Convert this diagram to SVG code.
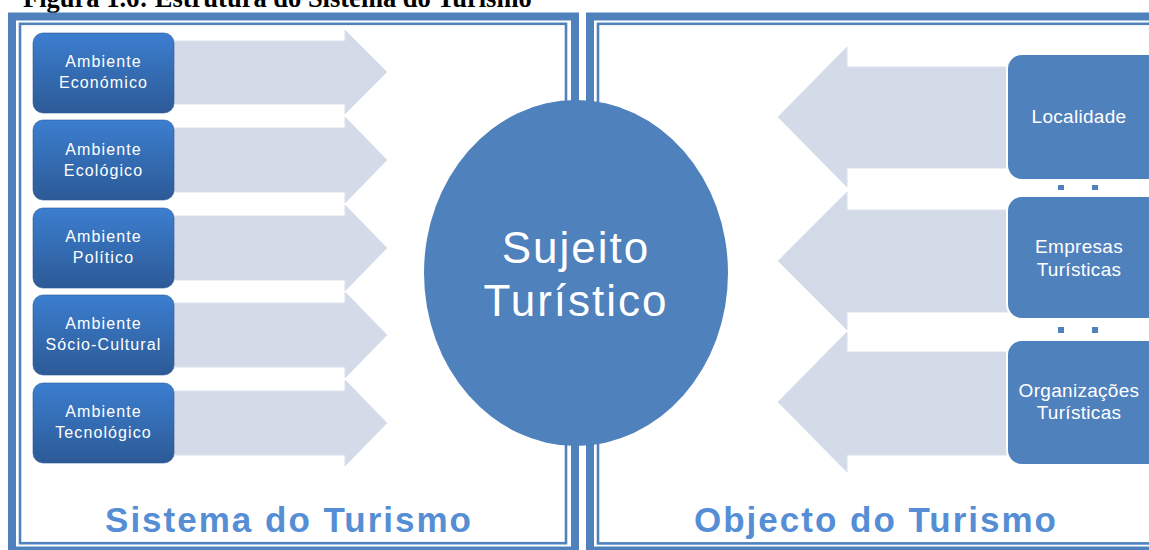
<svg xmlns="http://www.w3.org/2000/svg" width="1149" height="550" viewBox="0 0 1149 550">
<style>
.frame{fill:none;stroke:#4f81bd}
.thick{stroke-width:8}
.thin{stroke-width:2.6}
.arrow{fill:#d3dbe8;stroke:#dae1ec;stroke-width:1}
.lbox{fill:url(#lg);stroke:#2c5890;stroke-width:0.6}
.ltxt{font-family:"Liberation Sans",Arial,sans-serif;font-size:16px;fill:#ffffff;text-anchor:middle;letter-spacing:1.1px}
.rbox{fill:#4f81bd;stroke:#ffffff;stroke-width:2}
.rtxt{font-family:"Liberation Sans",Arial,sans-serif;font-size:19px;fill:#ffffff;text-anchor:middle;letter-spacing:0.3px}
.ctxt{font-family:"Liberation Sans",Arial,sans-serif;font-size:44px;fill:#ffffff;text-anchor:middle;letter-spacing:2px}
.dot{fill:#4f81bd}
.title{font-family:"Liberation Sans",Arial,sans-serif;font-weight:bold;font-size:35px;fill:#558ed5;text-anchor:middle;letter-spacing:2px}
</style>
<defs>
<linearGradient id="lg" x1="0" y1="0" x2="0" y2="1">
<stop offset="0" stop-color="#3c7ed0"/>
<stop offset="1" stop-color="#2c5a96"/>
</linearGradient>
</defs>
<rect width="1149" height="550" fill="#ffffff"/>
<text x="23" y="7" font-family="'Liberation Serif',serif" font-weight="bold" font-size="26.5" fill="#000000">Figura 1.6: Estrutura do Sistema do Turismo</text>
<g id="frames">
<rect class="frame thick" x="12" y="16.5" width="563" height="534"/>
<rect class="frame thin" x="20" y="23.8" width="546" height="519.4"/>
<rect class="frame thick" x="590" y="16.5" width="600" height="534"/>
<rect class="frame thin" x="598" y="23.8" width="590" height="519.6"/>
</g>
<g id="connectors">
<polygon class="arrow" points="150,41 345,41 345,30 387,72 345,114 345,104 150,104"/>
<polygon class="arrow" points="150,128 345,128 345,117 387,160 345,203 345,192 150,192"/>
<polygon class="arrow" points="150,216 345,216 345,205 387,248 345,291 345,280 150,280"/>
<polygon class="arrow" points="150,303 345,303 345,292 387,335 345,378 345,367 150,367"/>
<polygon class="arrow" points="150,391 345,391 345,380 387,423 345,466 345,455 150,455"/>
<polygon class="arrow" points="1010,67 847,67 847,47 778,117 847,187 847,168 1010,168"/>
<polygon class="arrow" points="1010,210 847,210 847,192 778,261 847,330 847,312 1010,312"/>
<polygon class="arrow" points="1010,352 847,352 847,332 778,402 847,472 847,455 1010,455"/>
</g>
<g id="node-economico">
<rect class="lbox" x="33" y="33" width="141" height="80" rx="10"/>
<text class="ltxt" x="103.5" y="67">Ambiente</text>
<text class="ltxt" x="103.5" y="88">Económico</text>
</g>
<g id="node-ecologico">
<rect class="lbox" x="33" y="120" width="141" height="80" rx="10"/>
<text class="ltxt" x="103.5" y="155">Ambiente</text>
<text class="ltxt" x="103.5" y="176">Ecológico</text>
</g>
<g id="node-politico">
<rect class="lbox" x="33" y="208" width="141" height="80" rx="10"/>
<text class="ltxt" x="103.5" y="242">Ambiente</text>
<text class="ltxt" x="103.5" y="263">Político</text>
</g>
<g id="node-socio">
<rect class="lbox" x="33" y="295" width="141" height="80" rx="10"/>
<text class="ltxt" x="103.5" y="329">Ambiente</text>
<text class="ltxt" x="103.5" y="350">Sócio-Cultural</text>
</g>
<g id="node-tecnologico">
<rect class="lbox" x="33" y="383" width="141" height="80" rx="10"/>
<text class="ltxt" x="103.5" y="417">Ambiente</text>
<text class="ltxt" x="103.5" y="438">Tecnológico</text>
</g>
<g id="node-sujeito">
<ellipse cx="576" cy="273" rx="152" ry="173" fill="#4f81bd"/>
<text class="ctxt" x="576" y="263">Sujeito</text>
<text class="ctxt" x="576" y="316">Turístico</text>
</g>
<g id="node-localidade">
<rect class="rbox" x="1007" y="54" width="160" height="126" rx="15"/>
<text class="rtxt" x="1079" y="123">Localidade</text>
</g>
<g id="node-empresas">
<rect class="rbox" x="1007" y="196" width="160" height="123" rx="15"/>
<text class="rtxt" x="1079" y="253">Empresas</text>
<text class="rtxt" x="1079" y="276">Turísticas</text>
</g>
<g id="node-organizacoes">
<rect class="rbox" x="1007" y="340" width="160" height="125" rx="15"/>
<text class="rtxt" x="1079" y="397">Organizações</text>
<text class="rtxt" x="1079" y="419">Turísticas</text>
</g>
<g id="dots">
<rect class="dot" x="1058" y="185" width="6" height="5"/>
<rect class="dot" x="1092" y="185" width="6" height="5"/>
<rect class="dot" x="1058" y="327" width="6" height="6"/>
<rect class="dot" x="1092" y="327" width="6" height="6"/>
</g>
<text class="title" x="289" y="532">Sistema do Turismo</text>
<text class="title" x="876" y="532">Objecto do Turismo</text>
</svg>
